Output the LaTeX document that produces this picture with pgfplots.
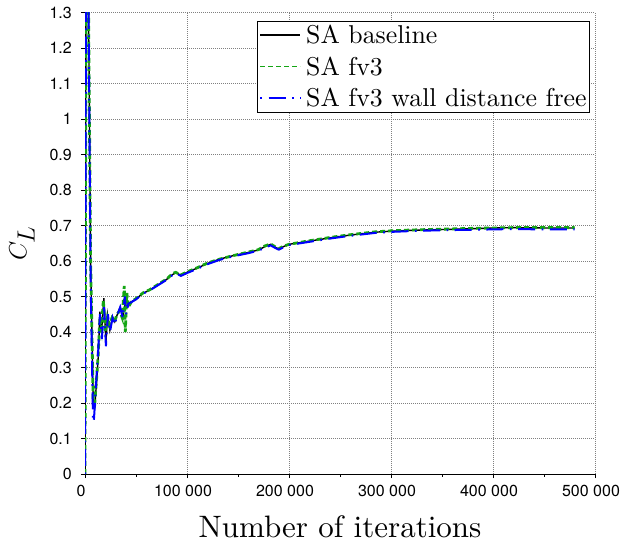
\documentclass[border=0pt]{standalone}
\usepackage{fontspec}
\setmainfont{lmroman10}[Extension=.otf, UprightFont=*-regular, ItalicFont=*-italic, BoldFont=*-bold, BoldItalicFont=*-bolditalic]
\usepackage{pgfplots}
\pgfplotsset{compat=1.18}
\newfontfamily\tickfont{TeX Gyre Heros}
\definecolor{cgreen}{RGB}{20,165,20}
\definecolor{cblue}{RGB}{0,0,255}
\begin{document}
\begin{tikzpicture}
\begin{axis}[name=ax, scale only axis, width=510pt, height=461.5pt,
  xmin=0, xmax=500000, ymin=0, ymax=1.3,
  xtick={0,100000,200000,300000,400000,500000},
  minor xtick={50000,150000,250000,350000,450000},
  ytick={0,0.1,0.2,0.3,0.4,0.5,0.6,0.7,0.8,0.9,1,1.1,1.2,1.3},
  scaled x ticks=false, scaled y ticks=false,
  axis x line*=bottom, axis y line*=left,
  axis line style={black, line width=0.8pt},
  tick align=outside, tick style={black, line width=0.8pt},
  major tick length=4pt, minor tick length=2.5pt,
  xmajorgrids, ymajorgrids,
  major grid style={black!50, line width=0.9pt, dash pattern=on 1pt off 1pt},
  /pgf/number format/assume math mode=true,
  xticklabel style={font=\tickfont\fontsize{16}{18}\selectfont, inner sep=0pt, /pgf/number format/fixed, /pgf/number format/1000 sep={\ }, xshift=-4pt, yshift=-7pt},
  yticklabel style={font=\tickfont\fontsize{16}{18}\selectfont, inner sep=0pt, /pgf/number format/fixed, xshift=-9pt},
  every axis x label/.style={at={(rel axis cs:0.5,0)}, anchor=base, yshift=-63pt},
  xlabel={\fontsize{31}{36}\selectfont Number of iterations},
  ylabel={\fontsize{35}{40}\selectfont $C_L$},
  ylabel style={at={(rel axis cs:0,0.5)}, anchor=center, yshift=63pt},
  legend style={at={(rel axis cs:1,1)}, anchor=north east, xshift=-5pt, yshift=-8.2pt,
    font=\fontsize{25.8}{31}\selectfont, draw=black, line width=0.8pt,
    inner xsep=2pt, inner ysep=2pt, row sep=7.5pt, fill=white,
    nodes={inner xsep=1pt},
    /tikz/every odd column/.append style={column sep=4pt}},
  legend cell align=left,
  legend image code/.code={\draw[#1, line width=1.6pt] (0pt,0pt) -- (40pt,0pt);},
]
\addplot[black, line width=1.4pt] coordinates {
(0,0) (900,1.3) (2000,1.6) (3500,1.3) (5500,0.6) (8100,0.2) (9500,0.19)
(11400,0.26) (13000,0.33) (14600,0.457) (16200,0.40) (18500,0.495) (20500,0.37)
(22100,0.448) (24400,0.405) (27000,0.443) (29200,0.429) (31500,0.448) (34100,0.467)
(37400,0.448) (40000,0.49) (42200,0.476) (45500,0.485) (50000,0.493) (56800,0.509)
(63400,0.518) (70000,0.530) (80000,0.548) (86000,0.562) (89000,0.567) (94000,0.560)
(100000,0.568) (110000,0.580) (120000,0.593) (131700,0.605) (145000,0.615)
(160000,0.624) (170000,0.631) (176000,0.640) (182000,0.647) (187000,0.638)
(190000,0.634) (195000,0.641) (200000,0.647) (220000,0.656) (242000,0.666)
(260000,0.673) (284000,0.681) (300000,0.684) (317000,0.686) (340000,0.688)
(356000,0.689) (380000,0.691) (400000,0.693) (420000,0.694) (450000,0.693) (480000,0.693)
};
\addlegendentry{SA baseline}
\addplot[cgreen, line width=2.8pt, dash pattern=on 5pt off 3pt] coordinates {
(0,0) (900,1.3) (2000,1.6) (3500,1.3) (5500,0.6) (8000,0.21) (9600,0.2)
(11400,0.27) (13000,0.34) (14600,0.44) (16200,0.41) (18000,0.49) (20000,0.40)
(22000,0.44) (24000,0.42) (26500,0.44) (29000,0.43) (31500,0.45) (34000,0.46)
(36500,0.44) (38500,0.53) (39500,0.40) (41000,0.51) (42500,0.47) (45500,0.485)
(50000,0.494) (56800,0.510) (63400,0.519) (70000,0.531) (80000,0.549) (86000,0.565)
(89000,0.568) (94000,0.561) (100000,0.569) (110000,0.581) (120000,0.594)
(131700,0.605) (145000,0.615) (160000,0.625) (170000,0.632) (176000,0.642)
(182000,0.648) (187000,0.639) (190000,0.635) (195000,0.642) (200000,0.647)
(220000,0.657) (242000,0.667) (260000,0.674) (284000,0.682) (300000,0.685)
(317000,0.687) (340000,0.689) (356000,0.690) (380000,0.692) (400000,0.693)
(420000,0.694) (450000,0.694) (480000,0.694)
};
\addlegendentry{SA fv3}
\addplot[cblue, line width=2pt, dash pattern=on 1.7pt off 6.5pt on 17pt off 6.5pt] coordinates {
(0,0) (900,1.3) (2000,1.6) (3500,1.3) (5500,0.55) (7800,0.16) (8600,0.147)
(9800,0.2) (11400,0.28) (13000,0.35) (14600,0.45) (16500,0.38) (18800,0.47)
(20500,0.36) (22500,0.45) (24500,0.40) (27000,0.44) (29000,0.42) (32000,0.45)
(34500,0.47) (37000,0.44) (39000,0.50) (40500,0.45) (42500,0.48) (45500,0.484)
(50000,0.492) (56800,0.508) (63400,0.517) (70000,0.529) (80000,0.547) (86000,0.561)
(89000,0.565) (94000,0.558) (100000,0.566) (110000,0.578) (120000,0.591)
(131700,0.603) (145000,0.613) (160000,0.622) (170000,0.629) (176000,0.637)
(182000,0.644) (187000,0.636) (190000,0.632) (195000,0.639) (200000,0.645)
(220000,0.654) (242000,0.664) (260000,0.671) (284000,0.679) (300000,0.682)
(317000,0.684) (340000,0.686) (356000,0.687) (380000,0.688) (400000,0.689)
(420000,0.690) (450000,0.689) (480000,0.689)
};
\addlegendentry{SA fv3 wall distance free}
\end{axis}
\path ([xshift=-85pt,yshift=-69pt]ax.south west) rectangle ([xshift=27pt,yshift=12.5pt]ax.north east);
\end{tikzpicture}
\end{document}
